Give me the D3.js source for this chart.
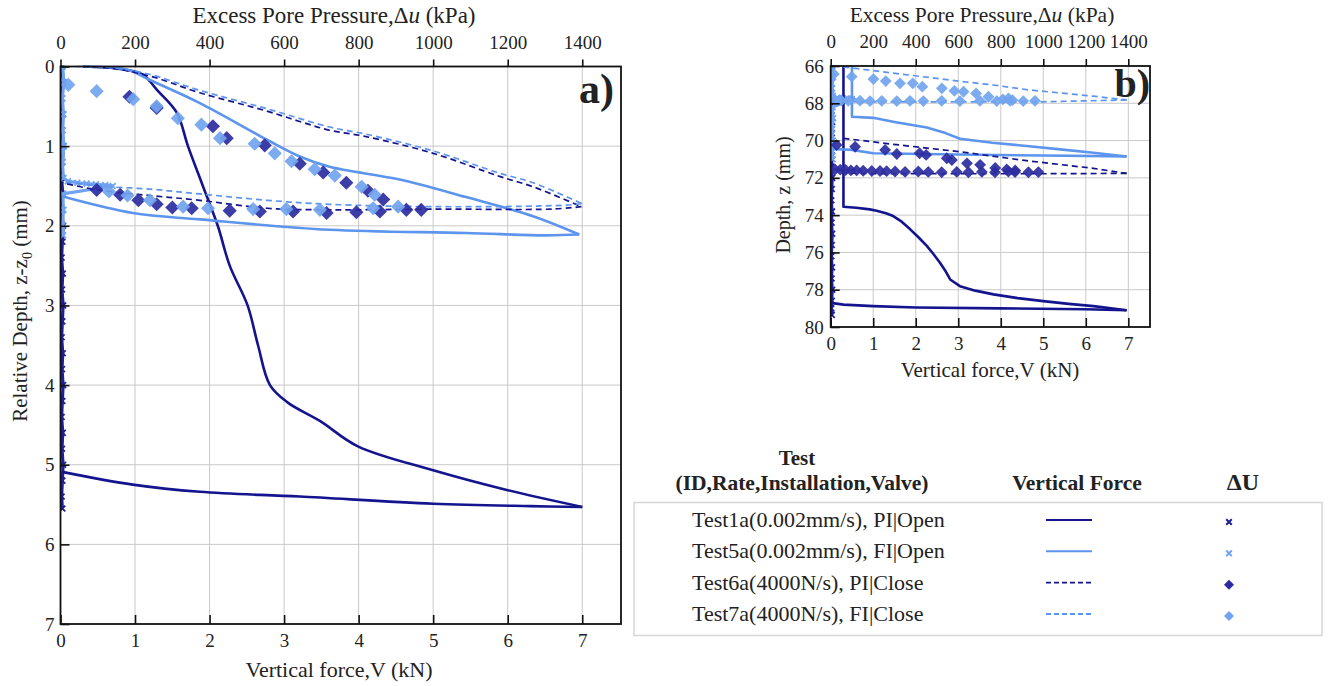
<!DOCTYPE html>
<html><head><meta charset="utf-8">
<script src="https://cdn.jsdelivr.net/npm/d3@7"></script>
<style>
body{margin:0;background:#fff}
svg{display:block}
text{font-family:"Liberation Serif","Times New Roman",serif;fill:#222}
</style>
</head><body><svg id="c" width="1333" height="686"></svg>
<script>
// ---------- ticks ----------
const forceTicks = [0,1,2,3,4,5,6,7];
const pressureTicks = [0,200,400,600,800,1000,1200,1400];
const depthTicksA = [0,1,2,3,4,5,6,7];
const depthTicksB = [66,68,70,72,74,76,78,80];

// ---------- panel a: vertical force [V kN, relative depth mm] ----------
const a_test1a_force = [[0.3,0],[0.8,0.03],[1.1,0.1],[1.3,0.3],[1.56,0.58],[1.71,1.0],[1.91,1.5],[2.11,2.0],[2.27,2.5],[2.51,3.0],[2.65,3.5],[2.81,4.0],[3.05,4.22],[3.48,4.45],[3.99,4.77],[5.0,5.07],[6.0,5.32],[7.0,5.53],[6.3,5.52],[5.0,5.49],[3.21,5.40],[1.87,5.34],[0.97,5.25],[0.02,5.09]];
const a_test5a_force = [[0.3,0],[0.9,0.04],[1.2,0.17],[1.87,0.46],[2.77,0.92],[3.21,1.13],[3.61,1.26],[4.55,1.42],[5.44,1.64],[6.34,1.88],[6.96,2.11],[6.5,2.12],[5.44,2.09],[3.61,2.05],[1.87,1.92],[0.97,1.84],[0.02,1.63]];
const a_test6a_force = [[0.3,0],[0.66,0.02],[1.2,0.12],[1.87,0.33],[2.77,0.56],[3.21,0.69],[3.61,0.8],[4.1,0.88],[5.0,1.09],[5.89,1.38],[6.34,1.51],[6.99,1.76],[6.6,1.79],[5.0,1.79],[3.61,1.8],[2.77,1.78],[1.87,1.68],[1.2,1.62],[0.5,1.55],[0.02,1.46]];
const a_test7a_force = [[0.2,0],[0.66,0.01],[1.2,0.1],[1.87,0.3],[2.77,0.53],[3.61,0.76],[4.1,0.85],[5.0,1.06],[5.89,1.34],[6.34,1.46],[6.99,1.72],[6.8,1.74],[5.0,1.76],[3.61,1.73],[2.77,1.68],[1.87,1.6],[1.2,1.54],[0.5,1.5],[0.02,1.44]];

// ---------- panel a: excess pore pressure [du kPa, relative depth mm] ----------
const a_test1a_du = [[4,0],[7,0.2],[3,0.4],[6,0.6],[4,0.8],[8,1.0],[5,1.2],[3,1.4],[6,1.6],[4,1.8],[7,2.0],[5,2.2],[3,2.4],[6,2.6],[4,2.8],[7,3.0],[5,3.2],[3,3.4],[6,3.6],[4,3.8],[7,4.0],[5,4.2],[3,4.4],[6,4.6],[4,4.8],[7,5.0],[5,5.2],[3,5.4],[5,5.55]];
const a_test5a_du = [[6,0],[9,0.2],[5,0.4],[8,0.6],[6,0.8],[9,1.0],[5,1.2],[8,1.4],[20,1.44],[45,1.46],[70,1.47],[95,1.48],[120,1.49],[140,1.5],[6,1.6],[8,1.8],[5,2.0],[7,2.12]];
const a_test6a_du = [[185,0.38],[258,0.52],[409,0.75],[446,0.9],[548,0.99],[642,1.22],[705,1.33],[767,1.46],[825,1.56],[866,1.67],[97,1.55],[160,1.61],[209,1.68],[258,1.73],[300,1.77],[352,1.78],[454,1.81],[535,1.82],[624,1.82],[714,1.84],[794,1.83],[857,1.82],[928,1.8],[968,1.8]];
const a_test7a_du = [[21,0.23],[97,0.31],[195,0.41],[258,0.5],[315,0.65],[378,0.73],[428,0.9],[521,0.97],[575,1.09],[620,1.19],[682,1.29],[736,1.37],[808,1.51],[843,1.61],[130,1.57],[180,1.62],[240,1.68],[329,1.76],[396,1.78],[517,1.79],[606,1.79],[696,1.8],[839,1.78],[906,1.76]];

// ---------- panel b: vertical force [V kN, depth mm] ----------
const b_test1a_force = [[0.3,66.0],[0.3,73.55],[0.6,73.6],[0.92,73.69],[1.08,73.76],[1.3,73.9],[1.47,74.05],[1.67,74.35],[1.87,74.76],[2.07,75.2],[2.26,75.65],[2.42,76.1],[2.57,76.55],[2.7,77.0],[2.81,77.45],[3.04,77.81],[3.4,78.05],[3.83,78.25],[4.4,78.45],[5.0,78.61],[5.6,78.76],[6.18,78.88],[6.96,79.1],[6.0,79.05],[4.0,79.0],[2.0,78.95],[1.0,78.88],[0.3,78.8],[0.05,78.72]];
const b_test5a_force = [[0.5,66.0],[0.5,68.72],[1.0,68.78],[1.5,69.0],[2.26,69.3],[2.7,69.6],[3.04,69.9],[3.8,70.12],[4.61,70.29],[5.4,70.47],[6.18,70.65],[6.96,70.85],[5.0,70.8],[3.0,70.75],[1.0,70.68],[0.5,70.5],[0.05,70.45]];
const b_test6a_force = [[0.3,69.88],[1.47,70.2],[3.04,70.6],[4.61,71.08],[6.18,71.49],[6.96,71.76],[5.0,71.78],[3.0,71.78],[1.0,71.77],[0.3,71.74]];
const b_test7a_force = [[0.3,66.05],[1.47,66.38],[3.04,66.82],[3.83,67.02],[4.61,67.27],[6.18,67.62],[6.96,67.82],[5.0,67.92],[3.0,67.93],[1.0,67.92],[0.3,67.9]];

// ---------- panel b: excess pore pressure [du kPa, depth mm] ----------
const b_test1a_du = [[4,66.0],[7,66.6],[3,67.2],[6,67.8],[4,68.4],[7,69.0],[5,69.6],[3,70.2],[6,70.8],[4,71.4],[7,72.0],[5,72.6],[3,73.2],[6,73.8],[4,74.4],[7,75.0],[5,75.6],[3,76.2],[6,76.8],[4,77.4],[7,78.0],[5,78.6],[3,79.0],[5,79.35]];
const b_test5a_du = [[8,66.0],[11,66.6],[7,67.2],[10,67.6],[30,67.7],[55,67.72],[80,67.75],[100,67.78],[9,68.2],[11,68.8],[7,69.4],[10,70.0],[8,70.6],[9,71.0]];
const b_test6a_du = [[28,70.24],[115,70.33],[256,70.5],[311,70.72],[418,70.68],[449,70.77],[546,70.95],[570,71.04],[641,71.22],[703,71.3],[774,71.47],[828,71.55],[868,71.6],[20,71.55],[45,71.56],[70,71.58],[95,71.6],[122,71.6],[153,71.62],[193,71.63],[232,71.63],[263,71.64],[303,71.66],[350,71.68],[412,71.66],[459,71.68],[522,71.7],[593,71.68],[648,71.7],[711,71.68],[773,71.7],[836,71.66],[867,71.69],[930,71.7],[977,71.69]];
const b_test7a_du = [[15,66.43],[99,66.57],[201,66.7],[259,66.81],[326,66.93],[386,66.93],[431,67.11],[523,67.2],[582,67.33],[625,67.38],[684,67.47],[742,67.65],[810,67.79],[836,67.74],[855,67.83],[21,67.85],[50,67.85],[83,67.87],[138,67.86],[185,67.88],[240,67.87],[311,67.88],[373,67.87],[436,67.88],[522,67.87],[608,67.88],[702,67.87],[781,67.88],[844,67.87],[906,67.88],[961,67.87]];

// ---------- legend ----------
const legendRows = ["Test1a(0.002mm/s), PI|Open","Test5a(0.002mm/s), FI|Open","Test6a(4000N/s), PI|Close","Test7a(4000N/s), FI|Close"];

const DARK = "#14148f", LIGHT = "#5d95ee", DARKD = "#2c2ca0", LIGHTD = "#72a4ee";
const styles = [
  {line:DARK, dash:null, mark:"x", mc:"#1e1e96"},
  {line:LIGHT, dash:null, mark:"x", mc:"#6fa2f0"},
  {line:DARK, dash:"6,4", mark:"d", mc:DARKD},
  {line:LIGHT, dash:"6,4", mark:"d", mc:LIGHTD}
];
const SERIF = "Liberation Serif, Times New Roman, serif";

const svg = d3.select("#c");
const FS_TICK = 19;

function panel(o){
  const g = svg.append("g");
  const x = d3.scaleLinear().domain([0, o.xMax]).range([o.left, o.right]);
  const xTop = d3.scaleLinear().domain([0, o.xMax*200]).range([o.left, o.right]);
  const y = d3.scaleLinear().domain(o.yDomain).range([o.top, o.bottom]);

  // grid
  g.append("g").selectAll("line").data(forceTicks.filter(d=>d>0)).join("line")
    .attr("x1",d=>x(d)).attr("x2",d=>x(d)).attr("y1",o.top).attr("y2",o.bottom)
    .attr("stroke","#c9c9c9").attr("stroke-width",1);
  g.append("g").selectAll("line").data(o.yTicks.slice(1,-1)).join("line")
    .attr("y1",d=>y(d)).attr("y2",d=>y(d)).attr("x1",o.left).attr("x2",o.right)
    .attr("stroke","#c9c9c9").attr("stroke-width",1);

  const clip = "clip"+o.id;
  svg.append("clipPath").attr("id",clip).append("rect")
    .attr("x",o.left).attr("y",o.top-1).attr("width",o.right-o.left).attr("height",o.bottom-o.top+1);
  const data = g.append("g").attr("clip-path",`url(#${clip})`);

  const line = d3.line().x(d=>x(d[0])).y(d=>y(d[1])).curve(o.curve);
  const lineDu = d3.line().x(d=>xTop(d[0])).y(d=>y(d[1]));

  // du crosses (column lines) first
  o.du.forEach((ser,i)=>{
    const s = styles[i];
    if(s.mark==="x"){
      data.append("path").datum(ser).attr("d",lineDu).attr("fill","none")
        .attr("stroke",s.mc).attr("stroke-width",3.2);
      data.append("g").selectAll("path").data(ser).join("path")
        .attr("d",d3.symbol(d3.symbolTimes, 24)())
        .attr("transform",d=>`translate(${xTop(d[0])},${y(d[1])})`)
        .attr("fill","none").attr("stroke",s.mc).attr("stroke-width",1.8);
    }
  });
  // force lines: loading branch and unloading branch drawn separately (split at max force)
  o.force.forEach((ser,i)=>{
    const s = styles[i];
    const iMax = d3.maxIndex(ser, d=>d[0]);
    [ser.slice(0,iMax+1), ser.slice(iMax)].forEach(part=>{
      data.append("path").datum(part).attr("d",line).attr("fill","none")
        .attr("stroke",s.line).attr("stroke-width", s.dash?1.7:2.6)
        .attr("stroke-dasharray",s.dash).attr("stroke-linejoin","round");
    });
  });
  // diamonds
  [2,3].forEach(i=>{
    const s = styles[i];
    data.append("g").selectAll("path").data(o.du[i]).join("path")
      .attr("d",d3.symbol(d3.symbolSquare, o.dsize)())
      .attr("transform",d=>`translate(${xTop(d[0])},${y(d[1])}) rotate(45)`)
      .attr("fill",s.mc).attr("fill-opacity",0.92);
  });

  // frame
  g.append("rect").attr("x",o.left).attr("y",o.top).attr("width",o.right-o.left).attr("height",o.bottom-o.top)
    .attr("fill","none").attr("stroke","#111").attr("stroke-width",1.8);

  const styleAxis = (sel)=>{
    sel.select(".domain").remove();
    sel.selectAll(".tick line").attr("stroke","#111").attr("stroke-width",1.6);
    sel.selectAll(".tick text").attr("font-family",SERIF).attr("font-size",FS_TICK).attr("fill","#222");
  };
  g.append("g").attr("transform",`translate(0,${o.bottom})`)
    .call(d3.axisBottom(x).tickValues(forceTicks).tickSize(-9).tickPadding(o.padB).tickFormat(d3.format("d"))).call(styleAxis);
  g.append("g").attr("transform",`translate(0,${o.top})`)
    .call(d3.axisTop(xTop).tickValues(pressureTicks).tickSize(7).tickPadding(o.padT).tickFormat(d3.format("d"))).call(styleAxis);
  g.append("g").attr("transform",`translate(${o.left},0)`)
    .call(d3.axisLeft(y).tickValues(o.yTicks).tickSize(-9).tickPadding(o.padL).tickFormat(d3.format("d"))).call(styleAxis);

  // titles
  const tt = g.append("text").attr("x",o.topTitle[0]).attr("y",o.topTitle[1]).attr("text-anchor","middle").attr("font-size",o.fsTop);
  tt.append("tspan").text("Excess Pore Pressure,Δ");
  tt.append("tspan").attr("font-style","italic").text("u");
  tt.append("tspan").text(" (kPa)");
  g.append("text").attr("x",o.botTitle[0]).attr("y",o.botTitle[1]).attr("text-anchor","middle").attr("font-size",o.fsBot)
    .text("Vertical force,V (kN)");
  const lt = g.append("text").attr("transform",`translate(${o.leftTitle[0]},${o.leftTitle[1]}) rotate(-90)`)
    .attr("text-anchor","middle").attr("font-size",o.fsLeft);
  o.leftText(lt);
  g.append("text").attr("x",o.tag[0]).attr("y",o.tag[1]).attr("text-anchor","end")
    .attr("font-size",o.tag[2]).attr("font-weight","bold").attr("fill","#000").text(o.tag[3]);
}

panel({id:"a", left:60.5, right:621, top:66.5, bottom:624, xMax:7.52, yDomain:[0,7], yTicks:depthTicksA,
  force:[a_test1a_force,a_test5a_force,a_test6a_force,a_test7a_force],
  du:[a_test1a_du,a_test5a_du,a_test6a_du,a_test7a_du], dsize:100, curve:d3.curveCatmullRom.alpha(0.5),
  padB:10, padT:11, padL:6, fsTop:23, fsBot:22, fsLeft:21,
  topTitle:[334,23], botTitle:[339,677], leftTitle:[27,311], tag:[614,103,42,"a)"],
  leftText:(t)=>{ t.append("tspan").text("Relative Depth, z-z"); t.append("tspan").attr("font-size",14).attr("dy",5).text("0"); t.append("tspan").attr("dy",-5).text(" (mm)"); }
});
panel({id:"b", left:830.7, right:1150, top:66, bottom:327, xMax:7.51, yDomain:[66,80], yTicks:depthTicksB,
  force:[b_test1a_force,b_test5a_force,b_test6a_force,b_test7a_force],
  du:[b_test1a_du,b_test5a_du,b_test6a_du,b_test7a_du], dsize:70, curve:d3.curveLinear,
  padB:10, padT:11, padL:7, fsTop:21.5, fsBot:21, fsLeft:20,
  topTitle:[982,22], botTitle:[990,377], leftTitle:[790,195], tag:[1150,97,40,"b)"],
  leftText:(t)=>{ t.text("Depth, z (mm)"); }
});

// ---------- legend table ----------
const L = svg.append("g");
L.append("text").attr("x",797).attr("y",465).attr("text-anchor","middle").attr("font-weight","bold").attr("font-size",21).text("Test");
L.append("text").attr("x",802).attr("y",490).attr("text-anchor","middle").attr("font-weight","bold").attr("font-size",21.5).text("(ID,Rate,Installation,Valve)");
L.append("text").attr("x",1077).attr("y",490).attr("text-anchor","middle").attr("font-weight","bold").attr("font-size",21.5).text("Vertical Force");
L.append("text").attr("x",1243).attr("y",490).attr("text-anchor","middle").attr("font-weight","bold").attr("font-size",24).attr("fill","#111").text("ΔU");
L.append("rect").attr("x",634).attr("y",502.5).attr("width",688).attr("height",133).attr("fill","none").attr("stroke","#d6d6d6").attr("stroke-width",1.5);
const rowY = d3.scalePoint().domain(legendRows).range([520,614]);
legendRows.forEach((r,i)=>{
  const yy = rowY(r), s = styles[i];
  L.append("text").attr("x",692).attr("y",yy+7).attr("font-size",22).text(r);
  L.append("line").attr("x1",1046).attr("x2",1092).attr("y1",yy).attr("y2",yy)
    .attr("stroke",s.line).attr("stroke-width",s.dash?1.8:2).attr("stroke-dasharray",s.dash?"5,3":null);
  if(s.mark==="x"){
    L.append("path").attr("d",d3.symbol(d3.symbolTimes,22)()).attr("transform",`translate(1229,${yy+2})`)
      .attr("fill","none").attr("stroke",s.mc).attr("stroke-width",2);
  } else {
    L.append("path").attr("d",d3.symbol(d3.symbolSquare,50)()).attr("transform",`translate(1229,${yy+2}) rotate(45)`)
      .attr("fill",s.mc);
  }
});
svg.selectAll("text").attr("font-family",SERIF);
</script>
</body></html>
